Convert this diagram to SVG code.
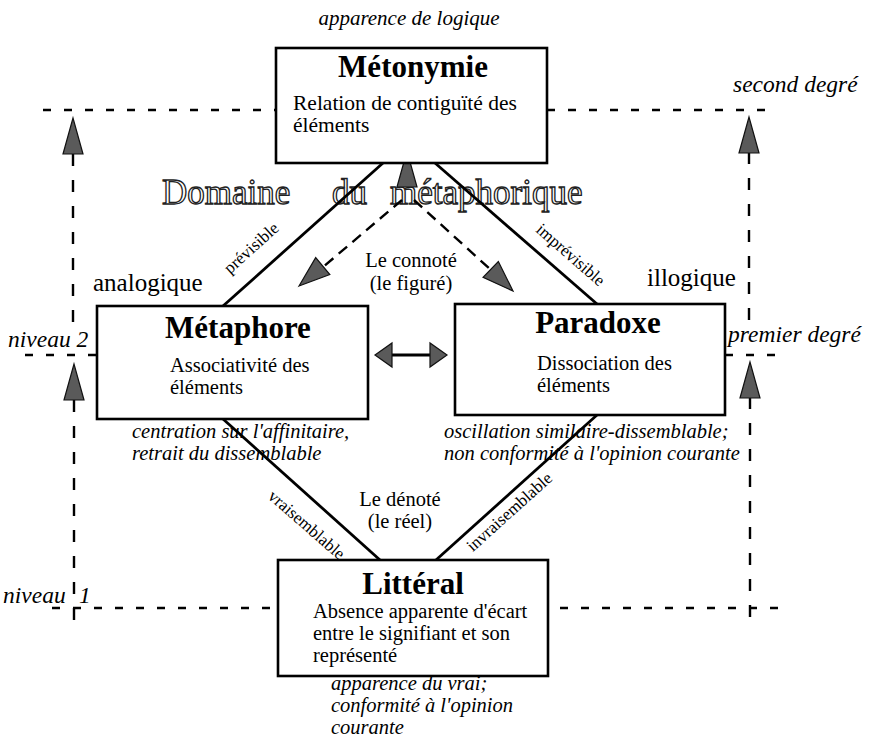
<svg xmlns="http://www.w3.org/2000/svg" xmlns:xlink="http://www.w3.org/1999/xlink" width="874" height="740" viewBox="0 0 874 740">
<style>
text{font-family:"Liberation Serif","Times New Roman",serif;fill:#000}
.box{fill:#fff;stroke:#000;stroke-width:2.6}
.title{font-size:31px;font-weight:bold;text-anchor:middle}
.body{font-size:20.5px}
.note{font-size:20.5px;font-style:italic}
.lvl{font-size:23.5px;font-style:italic}
.side{font-size:25px}
.rot{font-size:17px;text-anchor:middle}
.mid{font-size:20.5px;text-anchor:middle}
.dom{font-size:35px;fill:#fff;stroke:#222;stroke-width:1.3}
.solid{stroke:#000;stroke-width:2.8;fill:none}
.dash{stroke:#000;stroke-width:2.4;fill:none;stroke-dasharray:8 13}
.vdash{stroke:#000;stroke-width:2.4;fill:none;stroke-dasharray:12 14}
.cdash{stroke:#000;stroke-width:2.4;fill:none;stroke-dasharray:11 7}
.head{fill:#5a5a5a;stroke:#111;stroke-width:1.2;stroke-linejoin:miter}
</style>
<defs>
<path id="ah" d="M0,0 L-36,-10 L-36,10 Z"/>
<path id="ahd" d="M0,0 L-31,-11 L-31,11 Z"/>
<path id="ahs" d="M0,0 L-17,-12 L-17,12 Z"/>
</defs>

<text class="note" x="409" y="25" text-anchor="middle" style="font-size:21px">apparence de logique</text>
<text class="lvl" x="733" y="92">second degré</text>
<text class="lvl" x="8" y="347">niveau 2</text>
<text class="lvl" x="728" y="342">premier degré</text>
<text class="lvl" x="3" y="603">niveau<tspan x="79">1</tspan></text>
<text class="side" x="93" y="291">analogique</text>
<text class="side" x="647" y="286">illogique</text>

<g id="domaine">
<text class="dom" x="162" y="204">Domaine</text>
<text class="dom" x="332" y="204">du</text>
<text class="dom" x="390" y="204">métaphorique</text>
</g>

<g id="connectors">
<line class="dash" x1="43" y1="110" x2="276" y2="110"/>
<line class="dash" x1="547" y1="110" x2="770" y2="110"/>
<line class="dash" x1="25" y1="355" x2="97" y2="355"/>
<line class="dash" x1="725" y1="355" x2="780" y2="355"/>
<line class="dash" x1="52" y1="608" x2="278" y2="608"/>
<line class="dash" x1="560" y1="608" x2="783" y2="608"/>
<line class="vdash" x1="73" y1="154" x2="73" y2="330"/>
<line class="vdash" x1="74" y1="400" x2="74" y2="622"/>
<line class="vdash" x1="749" y1="152" x2="749" y2="322"/>
<line class="vdash" x1="750" y1="397" x2="750" y2="622"/>
<use xlink:href="#ah" class="head" transform="translate(73,118) rotate(-90)"/>
<use xlink:href="#ah" class="head" transform="translate(74,364) rotate(-90)"/>
<use xlink:href="#ah" class="head" transform="translate(749,117) rotate(-90)"/>
<use xlink:href="#ah" class="head" transform="translate(750,362) rotate(-90)"/>

<line class="solid" x1="383" y1="163" x2="223" y2="306"/>
<line class="solid" x1="435" y1="163" x2="597" y2="304"/>
<line class="solid" x1="223" y1="419" x2="380" y2="560"/>
<line class="solid" x1="597" y1="415" x2="436" y2="560"/>

<line class="cdash" x1="402" y1="200" x2="323" y2="267"/>
<line class="cdash" x1="414" y1="200" x2="491" y2="270"/>
<use xlink:href="#ahd" class="head" transform="translate(299,286) rotate(140)"/>
<use xlink:href="#ahd" class="head" transform="translate(513,291) rotate(44)"/>
<use xlink:href="#ah" class="head" transform="translate(407,151) rotate(-90)"/>

<line class="solid" x1="390" y1="355" x2="432" y2="355" style="stroke-width:3"/>
<use xlink:href="#ahs" class="head" transform="translate(375,355) rotate(180)"/>
<use xlink:href="#ahs" class="head" transform="translate(447,355)"/>

<text class="rot" x="255" y="252" transform="rotate(-42 255 252)">prévisible</text>
<text class="rot" x="567" y="259" transform="rotate(41 567 259)">imprévisible</text>
<text class="rot" x="303" y="529" transform="rotate(41 303 529)">vraisemblable</text>
<text class="rot" x="513" y="516" transform="rotate(-42 513 516)">invraisemblable</text>
</g>

<text class="mid" x="411" y="267">Le connoté</text>
<text class="mid" x="411" y="290">(le figuré)</text>
<text class="mid" x="400" y="506">Le dénoté</text>
<text class="mid" x="400" y="528">(le réel)</text>

<g id="metonymie">
<rect class="box" x="276" y="48" width="271" height="115"/>
<text class="title" x="413" y="77">Métonymie</text>
<text class="body" x="293" y="110" style="font-size:21.5px">Relation de contiguïté des</text>
<text class="body" x="293" y="132" style="font-size:21.5px">éléments</text>
</g>

<g id="metaphore">
<rect class="box" x="97" y="306" width="271" height="113"/>
<text class="title" x="238" y="338">Métaphore</text>
<text class="body" x="170" y="372">Associativité des</text>
<text class="body" x="170" y="394">éléments</text>
<text class="note" x="132" y="438">centration sur l'affinitaire,</text>
<text class="note" x="132" y="460">retrait du dissemblable</text>
</g>

<g id="paradoxe">
<rect class="box" x="455" y="304" width="270" height="111"/>
<text class="title" x="598" y="333">Paradoxe</text>
<text class="body" x="537" y="370">Dissociation des</text>
<text class="body" x="537" y="392">éléments</text>
<text class="note" x="444" y="438">oscillation similaire-dissemblable;</text>
<text class="note" x="444" y="460">non conformité à l'opinion courante</text>
</g>

<g id="litteral">
<rect class="box" x="278" y="560" width="270" height="116"/>
<text class="title" x="413" y="594">Littéral</text>
<text class="body" x="313" y="618">Absence apparente d'écart</text>
<text class="body" x="313" y="640">entre le signifiant et son</text>
<text class="body" x="313" y="662">représenté</text>
<text class="note" x="331" y="690">apparence du vrai;</text>
<text class="note" x="331" y="712">conformité à l'opinion</text>
<text class="note" x="331" y="734">courante</text>
</g>
</svg>
